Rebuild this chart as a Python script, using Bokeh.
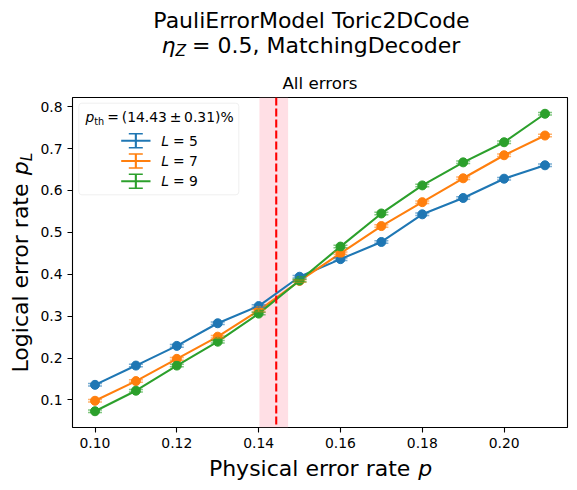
import math
from bokeh.plotting import figure
from bokeh.layouts import column, row
from bokeh.models import (Range1d, FixedTicker, PrintfTickFormatter, Label, BoxAnnotation,
                          Span, Whisker, ColumnDataSource, TeeHead)
from bokeh.embed import file_html
from bokeh.resources import INLINE

# ---------------- data ----------------
p_phys = [0.10, 0.11, 0.12, 0.13, 0.14, 0.15, 0.16, 0.17, 0.18, 0.19, 0.20, 0.21]
pL_L5 = [0.136, 0.182, 0.229, 0.283, 0.324, 0.394, 0.436, 0.477, 0.543, 0.582, 0.628, 0.660]
pL_L7 = [0.098, 0.145, 0.198, 0.251, 0.313, 0.384, 0.450, 0.515, 0.572, 0.629, 0.684, 0.731]
pL_L9 = [0.073, 0.122, 0.182, 0.239, 0.306, 0.385, 0.466, 0.545, 0.612, 0.667, 0.715, 0.783]
err_L5 = [0.003, 0.003, 0.003, 0.003, 0.003, 0.003, 0.003, 0.003, 0.003, 0.003, 0.003, 0.003]
err_L7 = [0.003, 0.003, 0.003, 0.003, 0.003, 0.003, 0.003, 0.003, 0.003, 0.003, 0.003, 0.003]
err_L9 = [0.003, 0.003, 0.003, 0.003, 0.003, 0.003, 0.003, 0.003, 0.003, 0.003, 0.003, 0.003]
sizes = ["5", "7", "9"]
colors = ["#1f77b4", "#ff7f0e", "#2ca02c"]
p_th = 0.1443
p_th_band = [0.1402, 0.1472]
x_ticks = [0.10, 0.12, 0.14, 0.16, 0.18, 0.20]
y_ticks = [0.1, 0.2, 0.3, 0.4, 0.5, 0.6, 0.7, 0.8]

series = [(pL_L5, err_L5), (pL_L7, err_L7), (pL_L9, err_L9)]

FONT = "DejaVu Sans"
LW = 2.1
TOTAL_W = 575
TITLE_H = 92
YLAB_W = 37
BORDER_L = 35
MAIN_W = TOTAL_W - YLAB_W
MAIN_H = 363
XLAB_H = 33
MID = 0.346  # middle of text box above the baseline, in em
TS = "\u2009"  # thin space


def lab(fig, text, x, y, size, style="normal", angle=0.0, align="left"):
    # (x, y) is the baseline point; convert to the vertical middle of the text box
    if angle:
        x = x - MID * size
    else:
        y = y + MID * size
    fig.add_layout(Label(x=x, y=y, x_units="screen", y_units="screen", text=text,
                         text_font=FONT, text_font_size=f"{size}px",
                         text_font_style=style, angle=angle, text_align=align,
                         text_baseline="middle", text_color="black"))


def strip(w, h):
    s = figure(width=w, height=h, output_backend="svg", toolbar_location=None,
               x_range=Range1d(0, w), y_range=Range1d(0, h), min_border=0,
               x_axis_location=None, y_axis_location=None, title_location=None)
    s.grid.visible = False
    s.outline_line_color = None
    s.background_fill_color = "white"
    s.border_fill_color = "white"
    return s


# ---------------- main axes ----------------
xmin, xmax = min(p_phys), max(p_phys)
xm = 0.05 * (xmax - xmin)
lo = min(min(v - e for v, e in zip(vals, errs)) for vals, errs in series)
hi = max(max(v + e for v, e in zip(vals, errs)) for vals, errs in series)
ym = 0.05 * (hi - lo)

p = figure(width=MAIN_W, height=MAIN_H, output_backend="svg", toolbar_location=None,
           x_range=Range1d(xmin - xm, xmax + xm), y_range=Range1d(lo - ym, hi + ym),
           min_border_left=BORDER_L, min_border_right=MAIN_W - BORDER_L - 495,
           min_border_top=5, min_border_bottom=28, title_location=None)
p.grid.visible = False
p.outline_line_color = "black"
p.outline_line_width = 1.1
p.background_fill_color = "white"
p.border_fill_color = "white"

for ax in (p.xaxis, p.yaxis):
    ax.axis_line_color = None
    ax.major_tick_out = 5
    ax.major_tick_in = 0
    ax.major_tick_line_width = 1.1
    ax.major_tick_line_color = "black"
    ax.minor_tick_line_color = None
    ax.major_label_text_font = FONT
    ax.major_label_text_font_size = "13.9px"
    ax.major_label_text_color = "black"
    ax.major_label_standoff = 5
p.xaxis.ticker = FixedTicker(ticks=x_ticks)
p.yaxis.ticker = FixedTicker(ticks=y_ticks)
p.xaxis.formatter = PrintfTickFormatter(format="%.2f")
p.yaxis.formatter = PrintfTickFormatter(format="%.1f")

band = BoxAnnotation(left=p_th_band[0], right=p_th_band[1], fill_color="pink",
                     fill_alpha=0.5, line_color=None, level="underlay")
p.add_layout(band)

for (vals, errs), col in zip(series, colors):
    src = ColumnDataSource(dict(x=p_phys, y=vals,
                                lower=[v - e for v, e in zip(vals, errs)],
                                upper=[v + e for v, e in zip(vals, errs)]))
    p.line("x", "y", source=src, line_color=col, line_width=LW)
    wh = Whisker(base="x", lower="lower", upper="upper", source=src, dimension="height",
                 line_color=col, line_width=1.5, line_alpha=0.6, level="glyph",
                 upper_head=TeeHead(size=14, line_color=col, line_width=1.5, line_alpha=0.6),
                 lower_head=TeeHead(size=14, line_color=col, line_width=1.5, line_alpha=0.6))
    p.add_layout(wh)
    p.scatter("x", "y", source=src, size=9, fill_color=col, line_color=col)

p.add_layout(Span(location=p_th, dimension="height", line_color="red",
                  line_dash="8 3", line_width=LW))

# legend (frame-relative screen px)
p.add_layout(BoxAnnotation(left=6.3, right=166.3, bottom=232.7, top=324.3,
                           left_units="screen", right_units="screen",
                           bottom_units="screen", top_units="screen",
                           fill_color="white", fill_alpha=0.8,
                           line_color="#cccccc", line_width=1, border_radius=3))
lab(p, "p", 13, 305.5, 13.9, style="italic")
lab(p, "th", 21.8, 303, 9.7)
lab(p, "=" + TS + "(14.43" + TS + "±" + TS + "0.31)%", 34.8, 305.5, 13.9)

row_centers = [286.8, 266.5, 246.2]
for size_txt, col, cy in zip(sizes, colors, row_centers):
    def box(l, r, b, t):
        p.add_layout(BoxAnnotation(left=l, right=r, bottom=b, top=t,
                                   left_units="screen", right_units="screen",
                                   bottom_units="screen", top_units="screen",
                                   fill_color=col, fill_alpha=1, line_color=None))
    box(48.7, 78.0, cy - LW / 2, cy + LW / 2)
    box(62.3, 64.4, cy - 7, cy + 7)
    box(56.3, 70.3, cy + 6.25, cy + 7.75)
    box(56.3, 70.3, cy - 7.75, cy - 6.25)
    lab(p, "L", 88.7, cy - 5, 13.9, style="italic")
    lab(p, "= " + size_txt, 100.4, cy - 5, 13.9)

# ---------------- title strip ----------------
t = strip(TOTAL_W, TITLE_H)
lab(t, "PauliErrorModel Toric2DCode", 311, 64.7, 22, align="center")
lab(t, "η", 161, 39.7, 22, style="italic")
lab(t, "Z", 175, 36.2, 15.4, style="italic")
lab(t, "= 0.5, MatchingDecoder", 191.6, 39.7, 22)
lab(t, "All errors", 319.5, 3.6, 16.7, align="center")

# ---------------- y label strip (its frame lines up with the main frame) ----------------
yl = strip(YLAB_W, MAIN_H)
lab(yl, "Logical error rate", 28, 55, 22, angle=math.pi / 2)
lab(yl, "p", 28, 252.3, 22, style="italic", angle=math.pi / 2)
lab(yl, "L", 31.5, 266.3, 15.4, style="italic", angle=math.pi / 2)

# ---------------- x label strip ----------------
xl = strip(TOTAL_W, XLAB_H)
lab(xl, "Physical error rate", 208.4, 12.7, 22)
lab(xl, "p", 417.7, 12.7, 22, style="italic")

layout = column(t, row(yl, p, spacing=0), xl, spacing=0)
open("out.html", "w").write(file_html(layout, INLINE))
